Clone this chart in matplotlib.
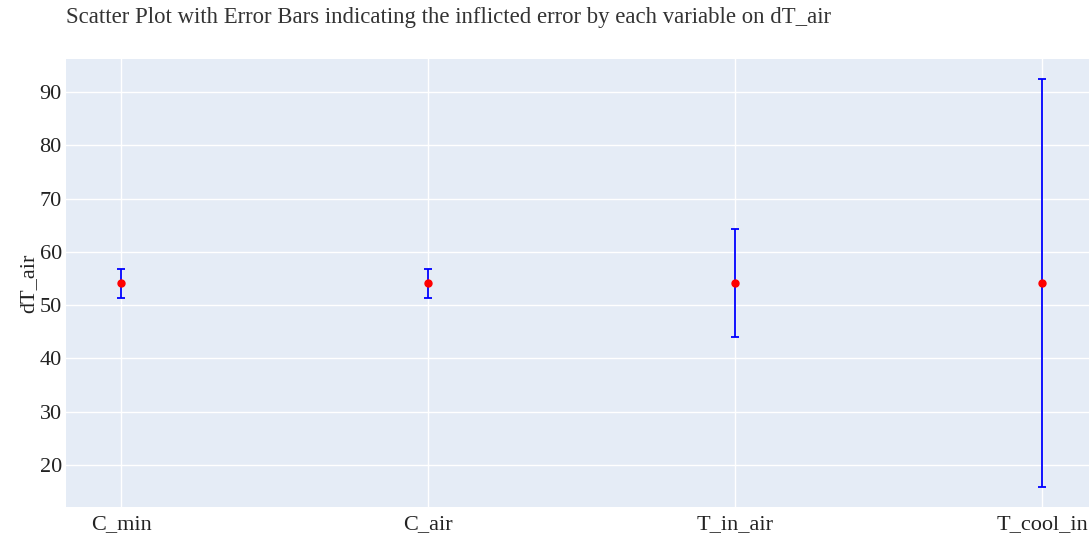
import matplotlib
matplotlib.use("Agg")
import matplotlib.pyplot as plt

# data
variables = ["C_min", "C_air", "T_in_air", "T_cool_in"]
dT_air = [54.1, 54.1, 54.1, 54.1]
errors = [2.7, 2.7, 10.1, 38.3]

plt.rcParams["font.family"] = ["Liberation Serif", "DejaVu Serif"]

fig = plt.figure(figsize=(10.89, 5.4), dpi=100)
ax = fig.add_axes([66/1089, 1 - 507/540, 1 - 66/1089, (507 - 59)/540])
ax.set_facecolor("#E5ECF6")

xs = list(range(len(variables)))
ax.errorbar(xs, dT_air, yerr=errors, fmt="o", color="red", markersize=5,
            ecolor="blue", elinewidth=1.3, capsize=3, capthick=1.3, zorder=3)

ax.set_xticks(xs)
ax.set_xticklabels(variables)
ax.set_yticks([20, 30, 40, 50, 60, 70, 80, 90])
ax.set_xlim(-0.18, 3.153)
ax.set_ylim(12.1, 96.2)
ax.grid(True, color="white", linewidth=1)
ax.set_axisbelow(True)
for s in ax.spines.values():
    s.set_visible(False)
ax.tick_params(length=0, labelsize=16, colors="#222222")
ax.tick_params(axis="y", pad=3)
ax.tick_params(axis="x", pad=6)
ax.set_ylabel("dT_air", fontsize=16, color="#222222", labelpad=1)

fig.text(66/1089, 1 - 18/540, "Scatter Plot with Error Bars indicating the inflicted error by each variable on dT_air",
         fontsize=16.4, color="#333333", va="center")

fig.savefig("out.png", dpi=100)
